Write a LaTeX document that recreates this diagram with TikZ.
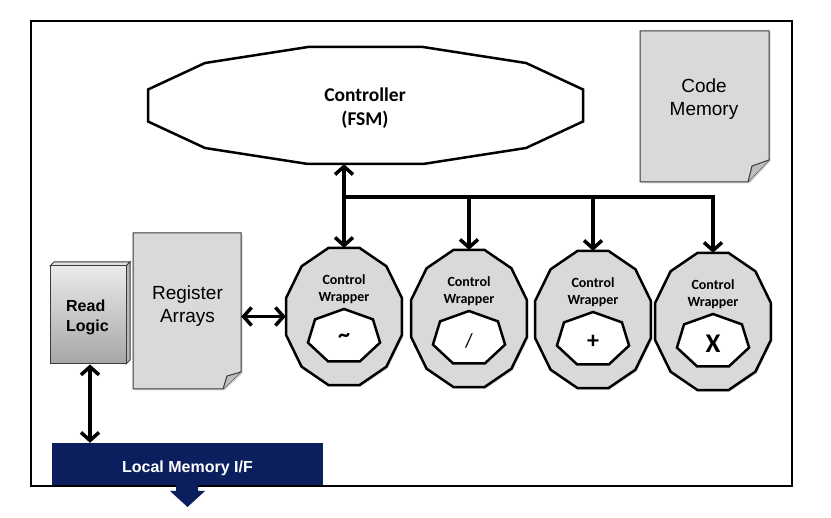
\documentclass[tikz,border=0pt]{standalone}
\usepackage{fontspec}
\setmainfont{Liberation Sans}
\newfontfamily\calfont{Carlito}
\usetikzlibrary{arrows.meta,shadows}
\definecolor{navy}{HTML}{0B1F5E}
\definecolor{docgray}{HTML}{D9D9D9}
\definecolor{flapgray}{HTML}{BDBDBD}
\definecolor{edgegray}{HTML}{3A3A3A}
\newcommand\mywrapper[5]{%
  \begin{scope}[shift={(#2,#3)}]
    \draw[wrapstyle] (15:60 and 71) \foreach \a in {45,75,...,345}{ -- (\a:60 and 71)} -- cycle;
    \begin{scope}[shift={(0,20)}]
      \draw[heptstyle] (270:37 and 27.5) \foreach \k in {1,...,6}{ -- ({270+\k*360/7}:37 and 27.5)} -- cycle;
    \end{scope}
  \end{scope}
  \node[inner sep=0,minimum width=116pt,minimum height=137pt] (#1) at (#2,#3) {};
  \node[wraptext] (#1t) at ({#2},{#3-27}) {Control\\Wrapper};
  \node[inner sep=0] (#1s) at ({#2},{#3+22}) {#4#5};
}
\begin{document}
\begin{tikzpicture}[x=1pt,y=-1pt,
  wrapstyle/.style={line width=2.5pt,fill=docgray,line join=miter,
    drop shadow={shadow xshift=1.5pt,shadow yshift=-1.5pt,opacity=.3}},
  heptstyle/.style={line width=2.5pt,fill=white},
  wraptext/.style={font=\calfont\bfseries\fontsize{14}{17}\selectfont,align=center,inner sep=0},
  docstyle/.style={draw=edgegray,line width=1pt,fill=docgray,
    drop shadow={shadow xshift=1.5pt,shadow yshift=-1.5pt,opacity=.3}},
  flapstyle/.style={draw=edgegray,line width=1pt,fill=flapgray,line join=round},
  doctext/.style={font=\fontsize{19}{23}\selectfont,align=center,inner sep=0},
  biarrow/.style={line width=3.5pt,{Straight Barb[length=8pt,width=18pt]}-{Straight Barb[length=8pt,width=18pt]}},
  onearrow/.style={line width=3.5pt,-{Straight Barb[length=8pt,width=18pt]}},
]
\fill[white] (0,0) rectangle (831,518);
\useasboundingbox (0,0) rectangle (831,518);

% frame
\node[draw,line width=2.5pt,minimum width=761pt,minimum height=465pt,inner sep=0] (frame) at (411.5,253.5) {};

% controller
\draw[line width=2.5pt,fill=white] (148,89.5) -- (205,63) -- (308,47) -- (423,47) -- (526,63) -- (583,89.5)
  -- (583,121.5) -- (526,148) -- (423,164) -- (308,164) -- (205,148) -- (148,121.5) -- cycle;
\node[inner sep=0,minimum width=435pt,minimum height=117pt] (ctrl) at (365.5,105.5) {};
\node[font=\calfont\bfseries\fontsize{19.5}{24}\selectfont,align=center,inner sep=0] (ctrlt) at (365,108) {Controller\\(FSM)};

% code memory
\draw[docstyle] (640,31) -- (769,31) -- (769,160) -- (748,182) -- (640,182) -- cycle;
\draw[flapstyle] (769,160) -- (752,166) -- (748,182);
\node[inner sep=0,minimum width=129pt,minimum height=151pt] (cm) at (704.5,106.5) {};
\node[doctext] (cmt) at (704,99) {Code\\Memory};

% register arrays
\draw[docstyle] (133,233) -- (241,233) -- (241,372) -- (223,389) -- (133,389) -- cycle;
\draw[flapstyle] (241,372) -- (227,376) -- (223,389);
\node[inner sep=0,minimum width=108pt,minimum height=156pt] (ra) at (187,311) {};
\node[doctext] (rat) at (187.5,306) {Register\\Arrays};

% read logic
\draw[draw=edgegray,line width=1pt,fill=black!12] (50,266) -- (54,262) -- (130,262) -- (126,266) -- cycle;
\draw[draw=edgegray,line width=1pt,fill=black!28] (126,266) -- (130,262) -- (130,360) -- (126,364) -- cycle;
\node[draw=edgegray,line width=1pt,top color=black!8,bottom color=black!35,inner sep=0,
  minimum width=76pt,minimum height=98pt] (rl) at (88,315) {};
\node[font=\bfseries\fontsize{16}{20}\selectfont,align=left,inner sep=0] (rlt) at (87.5,317) {Read\\Logic};

% wrappers
\mywrapper{w1}{344}{316.5}{\calfont\bfseries\fontsize{24}{24}\selectfont}{\textasciitilde}
\mywrapper{w2}{469}{318.5}{\calfont\fontsize{20}{20}\selectfont}{/}
\mywrapper{w3}{593}{319.5}{\calfont\bfseries\fontsize{24}{24}\selectfont}{+}
\mywrapper{w4}{713}{321.5}{\calfont\bfseries\fontsize{27}{27}\selectfont}{X}

% local memory I/F
\node[fill=navy,inner sep=0,minimum width=271pt,minimum height=43pt,text=white,
  font=\bfseries\fontsize{16}{19}\selectfont] (lm) at (187.5,464.5) {\raisebox{-8pt}[0pt][0pt]{Local Memory I/F}};
\draw[line width=2.5pt] (lm.south west) -- (lm.south east);
\fill[navy] (176,485) -- (198,485) -- (198,491) -- (205,491) -- (187.5,507) -- (170,491) -- (176,491) -- cycle;

% connectors
\draw[biarrow] (w1.north |- ctrl.south) -- (w1.north);
\coordinate (bj) at (344,197);
\draw[onearrow,line join=miter] (bj) -| (w4.north);
\draw[onearrow] (bj -| w2.north) -- (w2.north);
\draw[onearrow] (bj -| w3.north) -- (w3.north);
\draw[biarrow] (ra.east |- w1.west) -- (w1.west);
\draw[biarrow] ([xshift=2pt]rl.south) -- ([xshift=2pt]rl.south |- lm.north);
\end{tikzpicture}
\end{document}
